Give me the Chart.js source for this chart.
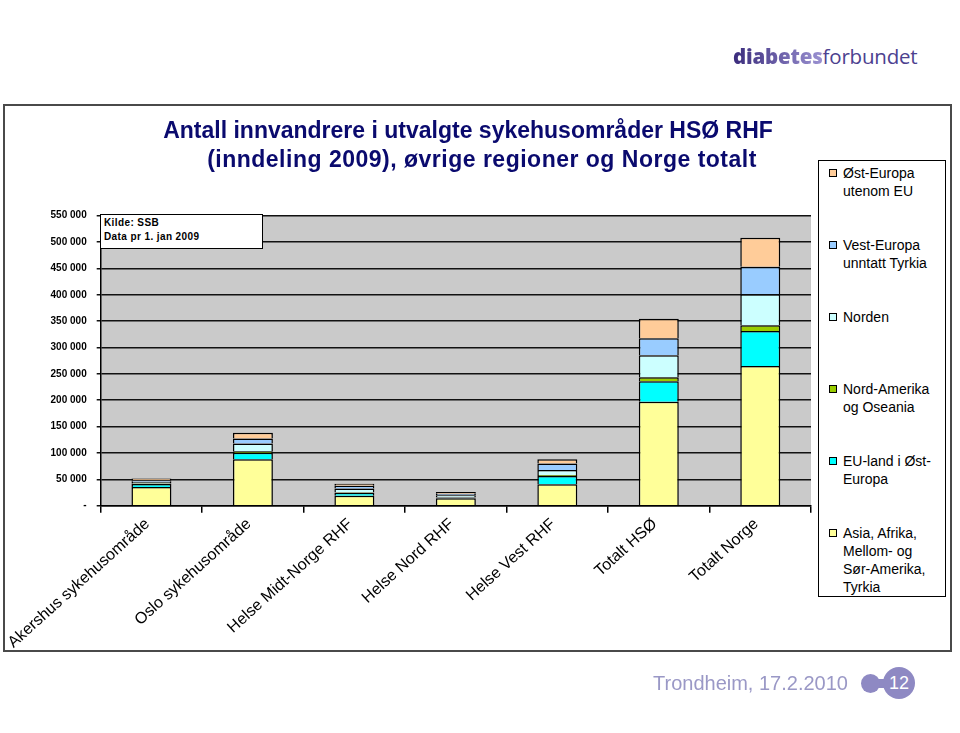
<!DOCTYPE html>
<html><head><meta charset="utf-8">
<script src="https://cdn.jsdelivr.net/npm/chart.js@4.4.0/dist/chart.umd.min.js"></script>
<style>
html,body{margin:0;padding:0;background:#fff;width:960px;height:733px;overflow:hidden;font-family:"Liberation Sans",Arial,sans-serif;}
#frame{position:absolute;left:3px;top:104px;width:945px;height:544px;border:2px solid #4a4a4a;}
#c{position:absolute;left:0;top:0;}
.tl{position:absolute;transform:translateX(-50%);white-space:nowrap;font-weight:bold;font-size:23px;color:#0a0a6e;line-height:26px;}
#kilde{position:absolute;left:100px;top:214px;width:163px;height:35px;border:1px solid #000;background:#fff;font-weight:bold;font-size:10px;letter-spacing:0.4px;line-height:12px;padding:0 0 0 3px;box-sizing:border-box;}
#kilde div{height:12px;margin-top:2px}
#legend{position:absolute;left:818px;top:160px;width:128px;height:437px;border:1px solid #000;box-sizing:border-box;background:#fff;}
.li{position:absolute;left:10px;width:112px;font-size:14px;line-height:18px;color:#000;}
.li .sw{position:absolute;left:0;top:5px;width:8px;height:8px;border:1px solid #000;box-sizing:border-box;}
.li .tx{position:absolute;left:14px;top:0;width:100px;}
#logo{position:absolute;left:733px;top:42px;font-family:"Open Sans",sans-serif;font-size:20.5px;line-height:28px;white-space:nowrap;letter-spacing:-0.2px;}
#logo .b{font-weight:800;background:linear-gradient(90deg,#3a2b7c,#9b92d2);-webkit-background-clip:text;background-clip:text;color:transparent;}
#logo .r{font-weight:400;color:#4c418f;}
#foot{position:absolute;left:653px;top:671px;font-size:20px;line-height:24px;color:#9a98c6;white-space:nowrap;}
#dot1{position:absolute;left:861px;top:674px;width:19px;height:19px;border-radius:50%;background:#8e89c3;}
#bar{position:absolute;left:872px;top:679px;width:20px;height:9px;background:#8e89c3;}
#dot2{position:absolute;left:883px;top:667px;width:32px;height:32px;border-radius:50%;background:#8e89c3;color:#fff;font-size:18px;line-height:32px;text-align:center;}
</style>
</head><body>
<div id="frame"></div>
<div id="logo"><span class="b">diabetes</span><span class="r">forbundet</span></div>
<canvas id="c" width="960" height="733"></canvas>
<div class="tl" style="left:468px;top:117px">Antall innvandrere i utvalgte sykehusområder HSØ RHF</div>
<div class="tl" style="left:482px;top:146px;letter-spacing:0.5px">(inndeling 2009), øvrige regioner og Norge totalt</div>
<div id="kilde"><div>Kilde: SSB</div><div>Data pr 1. jan 2009</div></div>
<div id="legend"></div>
<div id="foot">Trondheim, 17.2.2010</div>
<div id="bar"></div><div id="dot1"></div><div id="dot2">12</div>
<script>
const categories = ["Akershus sykehusområde","Oslo sykehusområde","Helse Midt-Norge RHF","Helse Nord RHF","Helse Vest RHF","Totalt HSØ","Totalt Norge"];
const asiaAfrika  = [35500, 88000, 19000, 14000, 40600, 197200, 265000];
const euOstEuropa = [5500, 12500, 5500, 1500, 15700, 38700, 66400];
const nordAmerika = [1000, 3000, 1000, 500, 2000, 7600, 10800];
const norden      = [3500, 14600, 7000, 4000, 9500, 41700, 58800];
const vestEuropa  = [3000, 9500, 5500, 2500, 12000, 32200, 52300];
const ostEuropa   = [3000, 10600, 3500, 3500, 8300, 37200, 55000];
const seriesNames = ["Asia, Afrika, Mellom- og Sør-Amerika, Tyrkia","EU-land i Øst-Europa","Nord-Amerika og Oseania","Norden","Vest-Europa unntatt Tyrkia","Øst-Europa utenom EU"];
const seriesData = [asiaAfrika, euOstEuropa, nordAmerika, norden, vestEuropa, ostEuropa];
const seriesColors = ["#ffff99","#00ffff","#99cc00","#ccffff","#99ccff","#ffcc99"];
const yMax = 550000, yStep = 50000;

const fmt = v => v === 0 ? '-' : String(v).replace(/\B(?=(\d{3})+(?!\d))/g, ' ');

const bgPlugin = {id:'bg', beforeDraw(chart){const {ctx, chartArea:a}=chart; ctx.save(); ctx.fillStyle='#cacaca'; ctx.fillRect(a.left,a.top,a.right-a.left,a.bottom-a.top); ctx.restore();}};

new Chart(document.getElementById('c'), {
  type:'bar',
  data:{labels:categories, datasets: seriesData.map((d,i)=>({label:seriesNames[i], data:d, backgroundColor:seriesColors[i], borderColor:'#000', borderWidth:1.5, barPercentage:0.394, categoryPercentage:1}))},
  options:{
    responsive:false, animation:false,
    layout:{padding:{left:0,right:149,top:215.7,bottom:77.3}},
    plugins:{legend:{display:false},tooltip:{enabled:false},title:{display:false}},
    scales:{
      x:{stacked:true, grid:{display:true,drawOnChartArea:false,drawTicks:true,tickLength:7,color:'#000',lineWidth:1.5,offset:true}, border:{color:'#000',width:1.5},
         ticks:{autoSkip:false,maxRotation:42,minRotation:42,color:'#000',font:{family:'Liberation Sans',size:16},padding:2,labelOffset:-4},
         afterFit(s){s.height=150;}},
      y:{stacked:true,min:0,max:yMax, ticks:{stepSize:yStep,color:'#000',font:{family:'Liberation Sans',size:10,weight:'bold'},padding:10,callback:fmt},
         grid:{color:'#111',lineWidth:1.5,tickLength:4}, border:{color:'#000',width:1.5},
         afterFit(s){s.width=100.7;}}
    }
  },
  plugins:[bgPlugin]
});

const leg = document.getElementById('legend');
const legendTops = [3,75,147,219,291,363];
for (let k=0;k<seriesNames.length;k++){
  const i = seriesNames.length-1-k;
  const el = document.createElement('div'); el.className='li'; el.style.top = legendTops[k]+'px';
  el.innerHTML = '<div class="sw" style="background:'+seriesColors[i]+'"></div><div class="tx"></div>';
  el.querySelector('.tx').textContent = seriesNames[i];
  leg.appendChild(el);
}
</script>
</body></html>
